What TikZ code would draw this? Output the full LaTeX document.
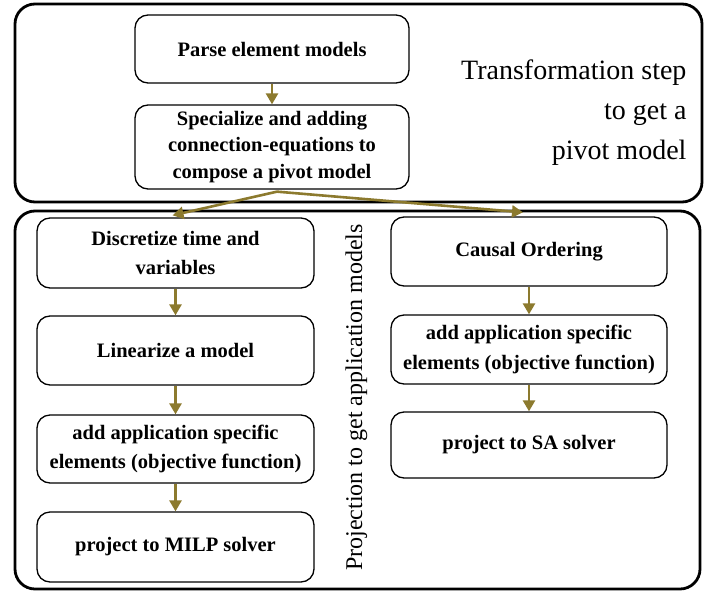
\documentclass[tikz,border=0pt]{standalone}
\usepackage{fontspec}
\setmainfont{Liberation Serif}
\usepackage{xcolor}
\usepackage{tikz}
\usetikzlibrary{positioning, shapes, calc, arrows.meta}
\definecolor{arrowgold}{RGB}{140,122,46}

\begin{document}
\begin{tikzpicture}[x=1pt, y=-1pt,
	stepbox/.style={draw, line width=1.3pt, rounded corners=13pt, align=center, inner sep=0pt,
		font=\fontsize{20.5}{29.5}\selectfont\bfseries, minimum width=277pt, minimum height=70pt},
	framebox/.style={draw, line width=2.8pt, rounded corners=20pt, inner sep=0pt},
	flow/.style={arrowgold, line width=2.6pt, -{Triangle[length=11pt,width=12pt]}}]
						\useasboundingbox (0,0) rectangle (719,591);
						
						% transformation part
						\node[framebox, minimum width=687pt, minimum height=198pt] (transf) at (358.5,103) {};
						\node[stepbox, minimum width=274pt, minimum height=68pt] (parse) at (272,49) {Parse element models};
						\node[stepbox, minimum width=274pt, minimum height=84pt, font=\fontsize{20.5}{26.7}\selectfont\bfseries] (spec) at (272,147) {Specialize and adding\\connection-equations to\\compose a pivot model};
						\node[align=right, anchor=east, font=\fontsize{28}{40}\selectfont] (transflabel) at (690,113) {Transformation step\\to get a\\pivot model};
						
						% projection part
						\node[framebox, minimum width=685pt, minimum height=378pt] (proj) at (357.5,400) {};
						\node[rotate=90, anchor=base, font=\fontsize{24}{28}\selectfont] (projlabel) at (362,397.5) {Projection to get application models};
						
						\node[stepbox] (disc) at (175.5,253) {Discretize time and\\variables};
						\node[stepbox, minimum height=69pt] (lin) at (175.5,350.5) {Linearize a model};
						\node[stepbox, minimum height=68pt] (appl) at (175.5,449) {add application specific\\elements (objective function)};
						\node[stepbox] (milp) at (175.5,547) {project to MILP solver};
						
						\node[stepbox, minimum width=276pt, minimum height=69pt] (caus) at (529,251.5) {Causal Ordering};
						\node[stepbox, minimum width=276pt, minimum height=69pt] (appr) at (529,349.5) {add application specific\\elements (objective function)};
						\node[stepbox, minimum width=276pt, minimum height=66pt] (sa) at (529,445) {project to SA solver};
						
						% arrows
						\coordinate (split) at ($(spec.south)+(5,2)$);
						\draw[flow] (parse) -- (spec);
						\draw[flow] (split) -- ($(disc.north)+(-3,-2)$);
						\draw[flow] (split) -- ($(caus.north)+(-6,-4)$);
						\draw[flow] (disc) -- (lin);
						\draw[flow] (lin) -- (appl);
						\draw[flow] (appl) -- (milp);
						\draw[flow] (caus) -- (appr);
						\draw[flow] (appr) -- (sa);
						\end{tikzpicture}
\end{document}
